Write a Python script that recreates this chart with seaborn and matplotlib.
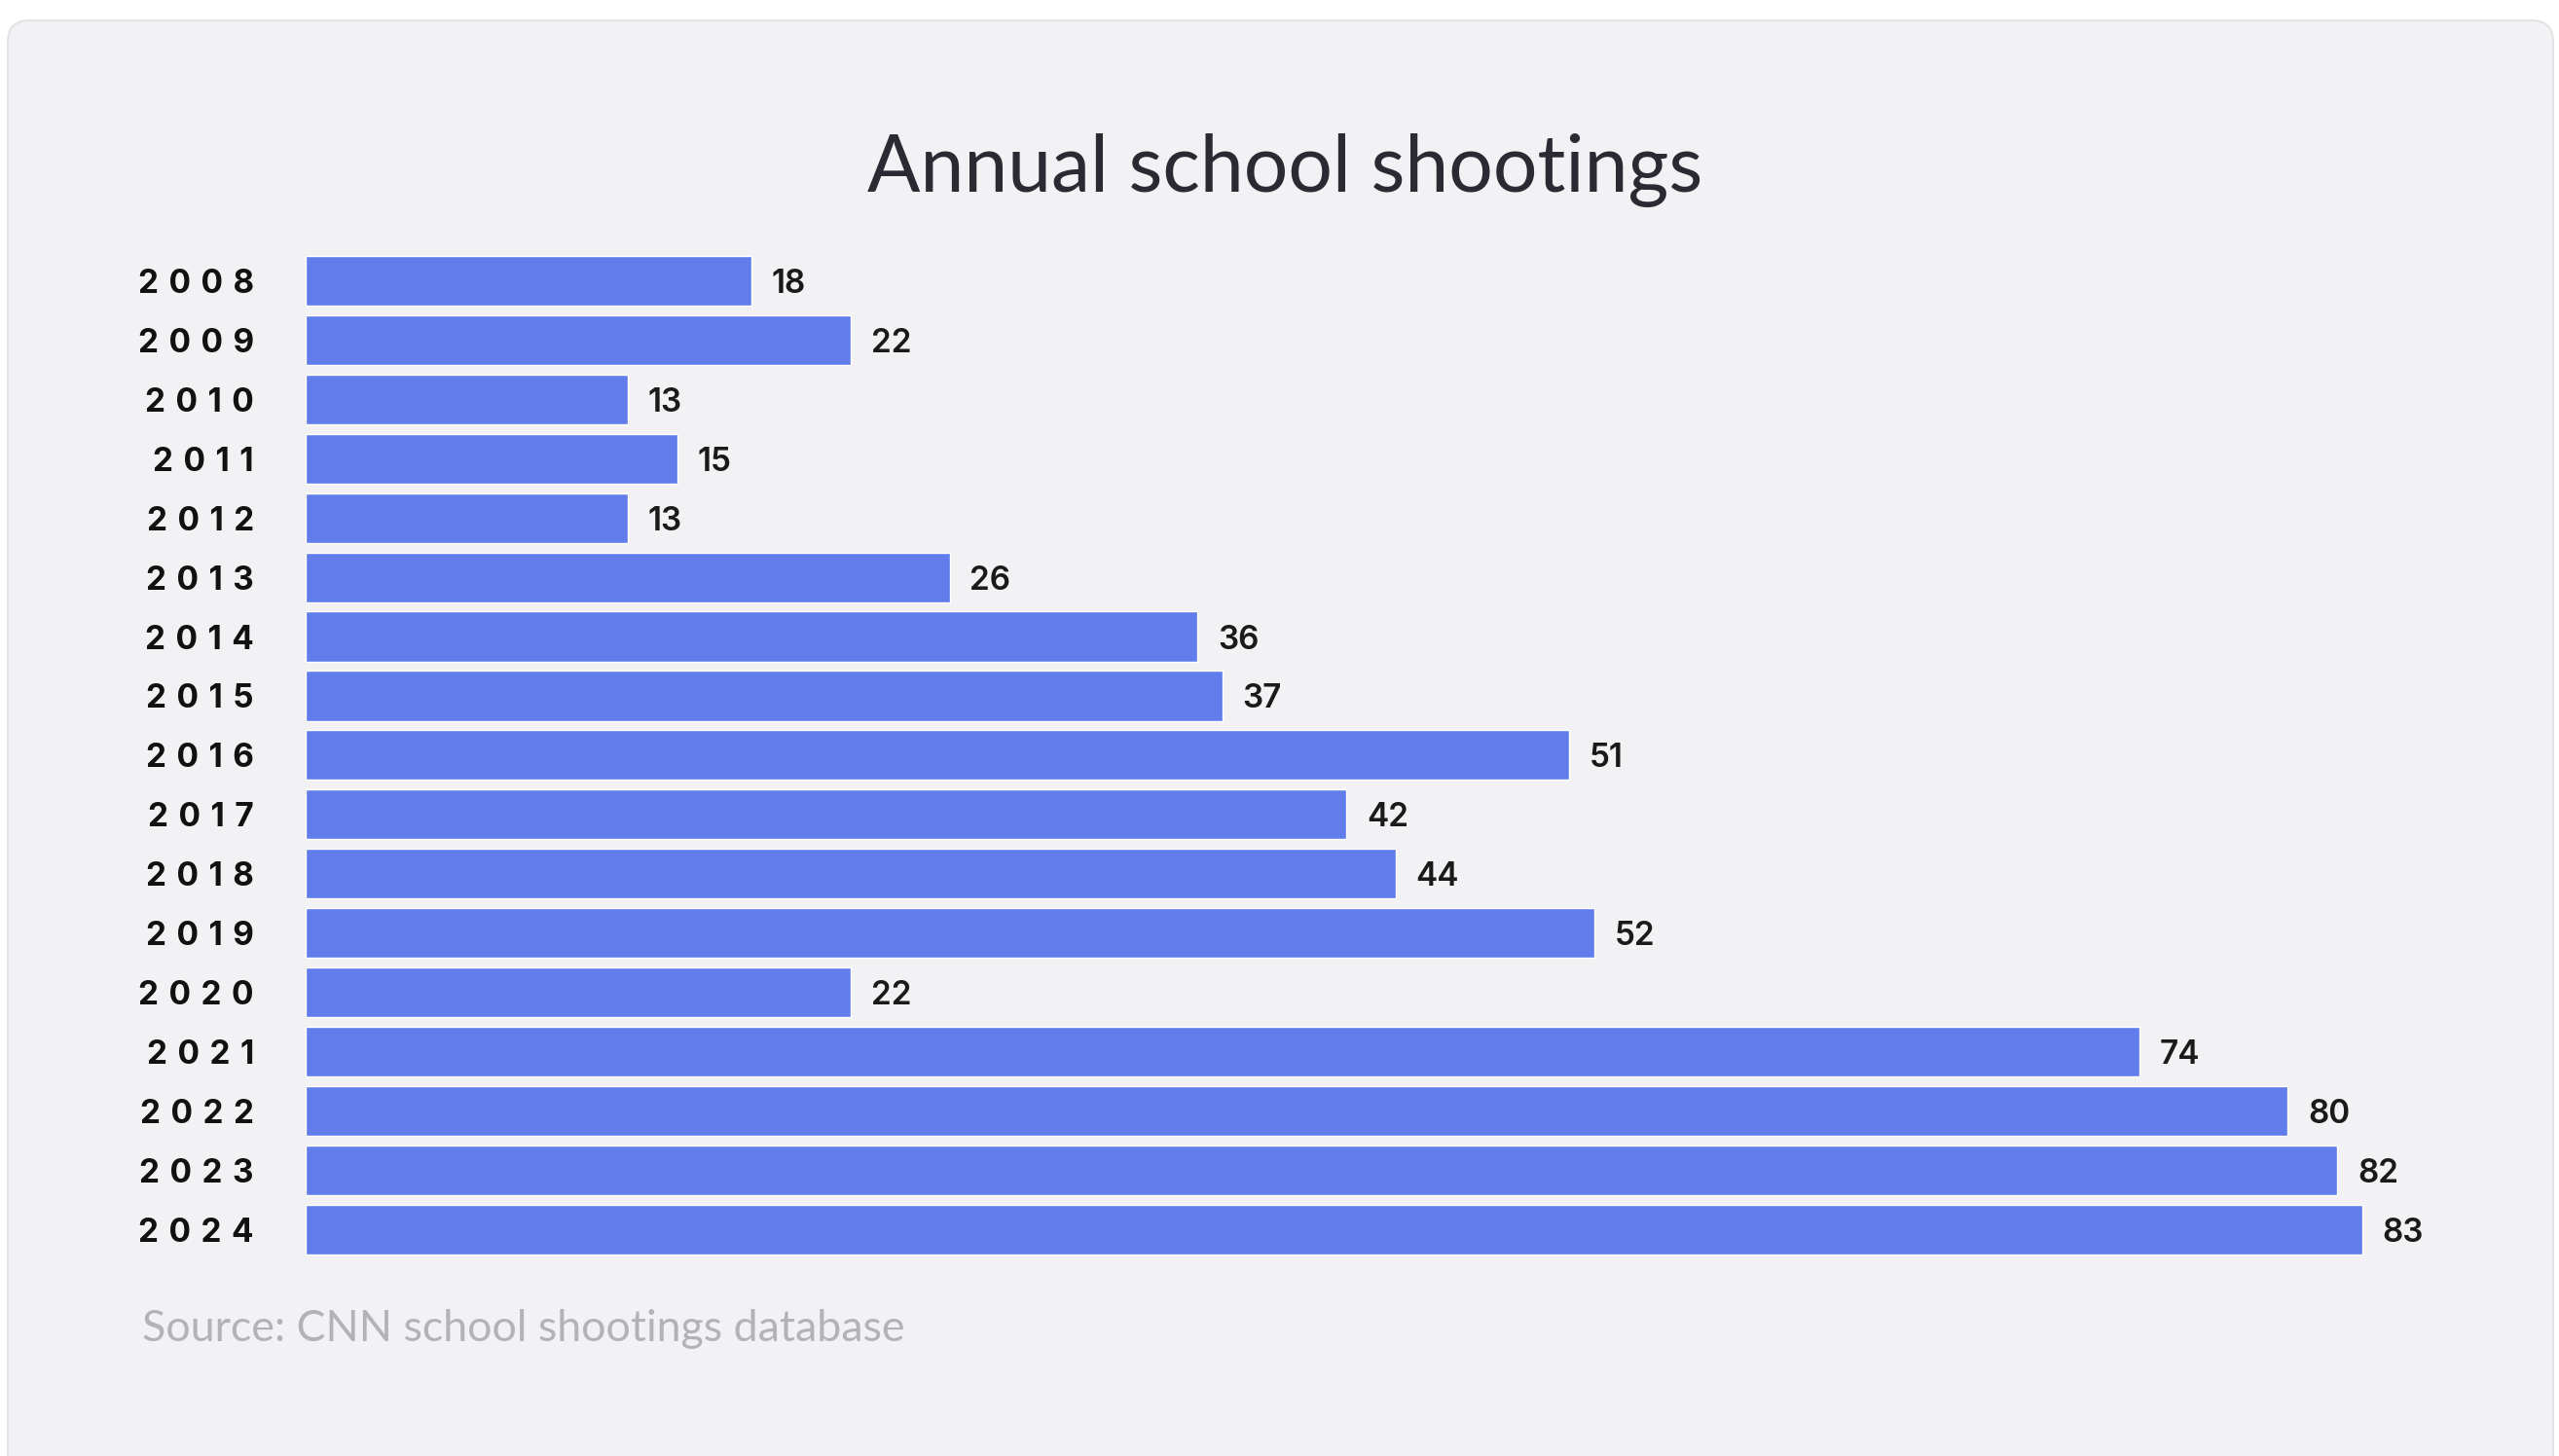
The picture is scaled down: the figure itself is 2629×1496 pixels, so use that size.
import matplotlib.pyplot as plt
import matplotlib.transforms as mtransforms
from matplotlib.patches import FancyBboxPatch
import seaborn as sns

years = ['2008', '2009', '2010', '2011', '2012', '2013', '2014', '2015', '2016',
         '2017', '2018', '2019', '2020', '2021', '2022', '2023', '2024']
shootings = [18, 22, 13, 15, 13, 26, 36, 37, 51, 42, 44, 52, 22, 74, 80, 82, 83]

title = 'Annual school shootings'
source = 'Source: CNN school shootings database'

bar_color = '#617CEB'
card_color = '#F2F2F4'

sns.set_theme(style='white')
plt.rcParams['font.family'] = ['Lato', 'DejaVu Sans']

W, H = 2629, 1496
fig = plt.figure(figsize=(W / 100, H / 100), dpi=100)
fig.patch.set_facecolor('white')

# the card behind the chart (pixel coords)
card = FancyBboxPatch((8, -60), W - 14, H - 13 + 60 - 8,
                      boxstyle='round,pad=0,rounding_size=22',
                      transform=mtransforms.IdentityTransform(),
                      facecolor=card_color, edgecolor='#E3E3E6', linewidth=1.5,
                      zorder=-5)
fig.add_artist(card)

ax = fig.add_axes([0.1193, 0.1352, 0.8716, 0.6923])
ax.set_zorder(2)
ax.set_facecolor('none')

sns.barplot(x=shootings, y=years, orient='h', color=bar_color, saturation=1,
            width=0.84, ax=ax)

ax.set_xlim(0, 90)
ax.set_ylim(16.5, -0.5)
labels = ax.bar_label(ax.containers[0], padding=15, fontsize=24,
                      fontweight='semibold', family=['Inter', 'DejaVu Sans'],
                      color='#1A1A1A')
# nudge value labels down a touch so the digits sit centred on the bar
for t in labels:
    t.xyann = (15, -2.5)

# spaced-out year labels
ax.set_yticks(range(len(years)))
ax.set_yticklabels(['\u2009\u2009'.join(y) for y in years], fontsize=24,
                   fontweight='bold', family=['Inter', 'DejaVu Sans'],
                   color='#111111')
ax.tick_params(axis='y', length=0, pad=38)
ax.set_xticks([])
ax.set_xlabel('')
ax.set_ylabel('')
sns.despine(ax=ax, left=True, bottom=True)

fig.text(0.502, 0.883, title, ha='center', va='center', fontsize=58,
         color='#2A2A33')
fig.text(0.0555, 0.0869, source, ha='left', va='center', fontsize=32.2,
         color='#B3B3B6')

fig.savefig('out.png', dpi=100)
plt.close(fig)
